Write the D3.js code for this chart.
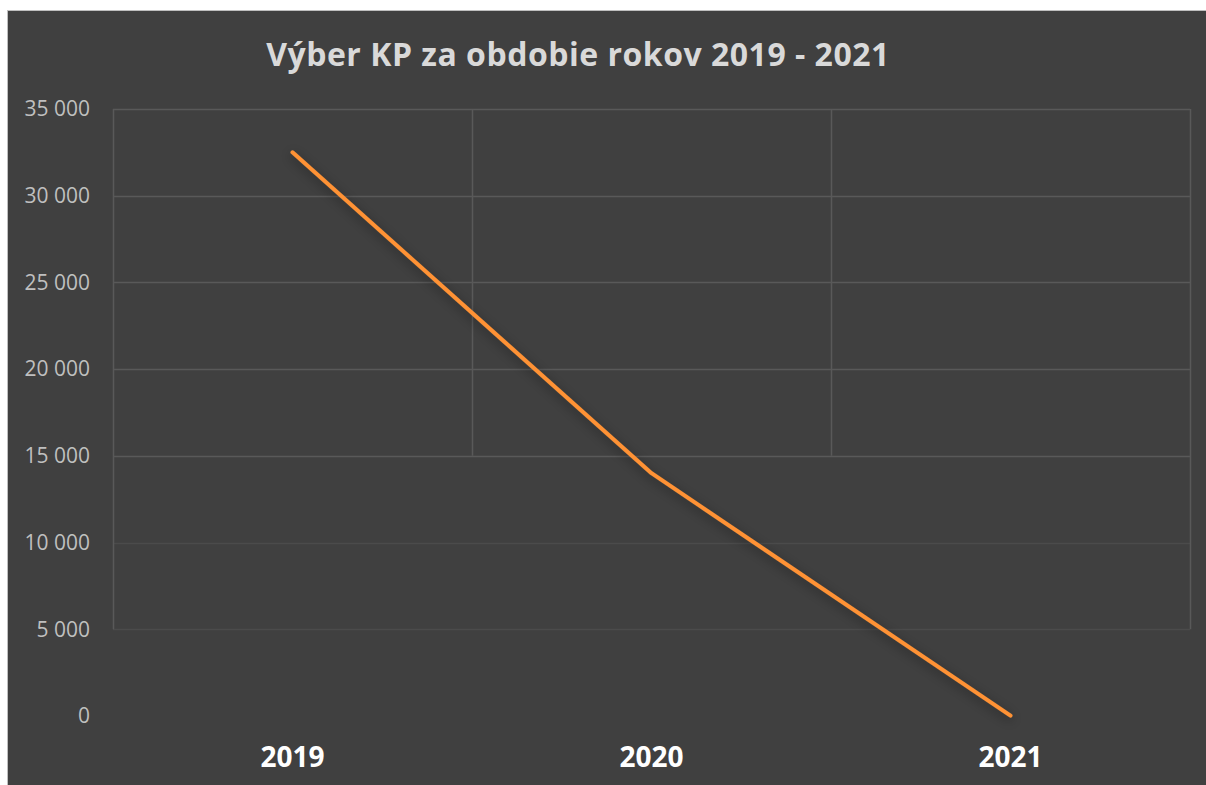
<!DOCTYPE html>
<html>
<head>
<meta charset="utf-8">
<script src="https://cdn.jsdelivr.net/npm/d3@7"></script>
<style>
  body { margin: 0; background: #ffffff; }
  text { font-family: "Open Sans", "Liberation Sans", sans-serif; }
</style>
</head>
<body>
<div id="graph"></div>
<script>
var years = ["2019", "2020", "2021"];
var values = [32500, 14000, 20];
var yTicks = [0, 5000, 10000, 15000, 20000, 25000, 30000, 35000];
var title = "Výber KP za obdobie rokov 2019 - 2021";

var W = 1206, H = 785;
var margin = {top: 109, right: 16, bottom: 69, left: 113};
var width = W - margin.left - margin.right,
    height = H - margin.top - margin.bottom;

var svg = d3.select('#graph')
    .append('svg')
    .attr('width', W)
    .attr('height', H);

// shadow under the line
var defs = svg.append('defs');
var f = defs.append('filter').attr('id', 'glow')
    .attr('x', '-20%').attr('y', '-20%').attr('width', '140%').attr('height', '140%');
f.append('feDropShadow')
    .attr('dx', 0).attr('dy', 3)
    .attr('stdDeviation', 6)
    .attr('flood-color', '#000')
    .attr('flood-opacity', 0.45);

// chart frame
svg.append('rect')
    .attr('x', 7.5).attr('y', 10.5)
    .attr('width', W - 7).attr('height', H - 10)
    .style('fill', '#404040')
    .style('stroke', '#bfbfbf')
    .style('stroke-width', 1);

svg.append('text')
    .attr('x', 578)
    .attr('y', 66)
    .attr('text-anchor', 'middle')
    .style('font-size', '32px')
    .style('font-weight', 'bold')
    .style('letter-spacing', '0.5px')
    .style('fill', '#d9d9d9')
    .text(title);

var g = svg.append('g')
    .attr('transform', 'translate(' + margin.left + ',' + margin.top + ')');

var x = d3.scaleBand()
    .domain(years)
    .range([0, width]);

var y = d3.scaleLinear()
    .domain([0, 35000])
    .range([height, 0]);

// horizontal grid
g.selectAll('.hgrid')
    .data(yTicks.filter(function(d){ return d > 0; }))
    .enter().append('line')
    .attr('class', 'hgrid')
    .attr('x1', 0).attr('x2', width)
    .attr('y1', function(d){ return Math.round(y(d)) + 0.5; })
    .attr('y2', function(d){ return Math.round(y(d)) + 0.5; })
    .style('stroke', '#595959')
    .style('stroke-opacity', function(d){ return d >= 15000 ? 1 : 0.45; })
    .style('stroke-width', 1.5);

// vertical grid at category boundaries
var bounds = years.map(function(d){ return x(d); }).concat([width]);
g.selectAll('.vgrid')
    .data(bounds)
    .enter().append('line')
    .attr('class', 'vgrid')
    .attr('x1', function(d){ return Math.round(d) + 0.5; })
    .attr('x2', function(d){ return Math.round(d) + 0.5; })
    .attr('y1', 0)
    .attr('y2', function(d, i){ return (i === 0 || i === bounds.length - 1) ? y(5000) : y(15000); })
    .style('stroke', '#595959')
    .style('stroke-width', 1.5);

// y axis labels
var yAxis = d3.axisLeft(y)
    .tickValues(yTicks)
    .tickSize(0)
    .tickPadding(23)
    .tickFormat(function(d){ return d3.format(',')(d).replace(/,/g, ' '); });

var yG = g.append('g').call(yAxis);
yG.select('.domain').remove();
yG.selectAll('text')
    .style('font-size', '21px')
    .style('fill', '#bfbfbf')
    .style('font-family', '"Open Sans", sans-serif');

// x axis labels
var xAxis = d3.axisBottom(x)
    .tickSize(0)
    .tickPadding(31);

var xG = g.append('g')
    .attr('transform', 'translate(0,' + height + ')')
    .call(xAxis);
xG.select('.domain').remove();
xG.selectAll('text')
    .style('font-size', '28px')
    .style('font-weight', 'bold')
    .style('fill', '#ffffff')
    .style('font-family', '"Open Sans", sans-serif');

// the line
var line = d3.line()
    .x(function(d, i){ return x(years[i]) + x.bandwidth() / 2; })
    .y(function(d){ return y(d); });

g.append('path')
    .datum(values)
    .attr('d', line)
    .attr('filter', 'url(#glow)')
    .style('fill', 'none')
    .style('stroke', '#ff9234')
    .style('stroke-width', 4)
    .style('stroke-linecap', 'round')
    .style('stroke-linejoin', 'round');
</script>
</body>
</html>
